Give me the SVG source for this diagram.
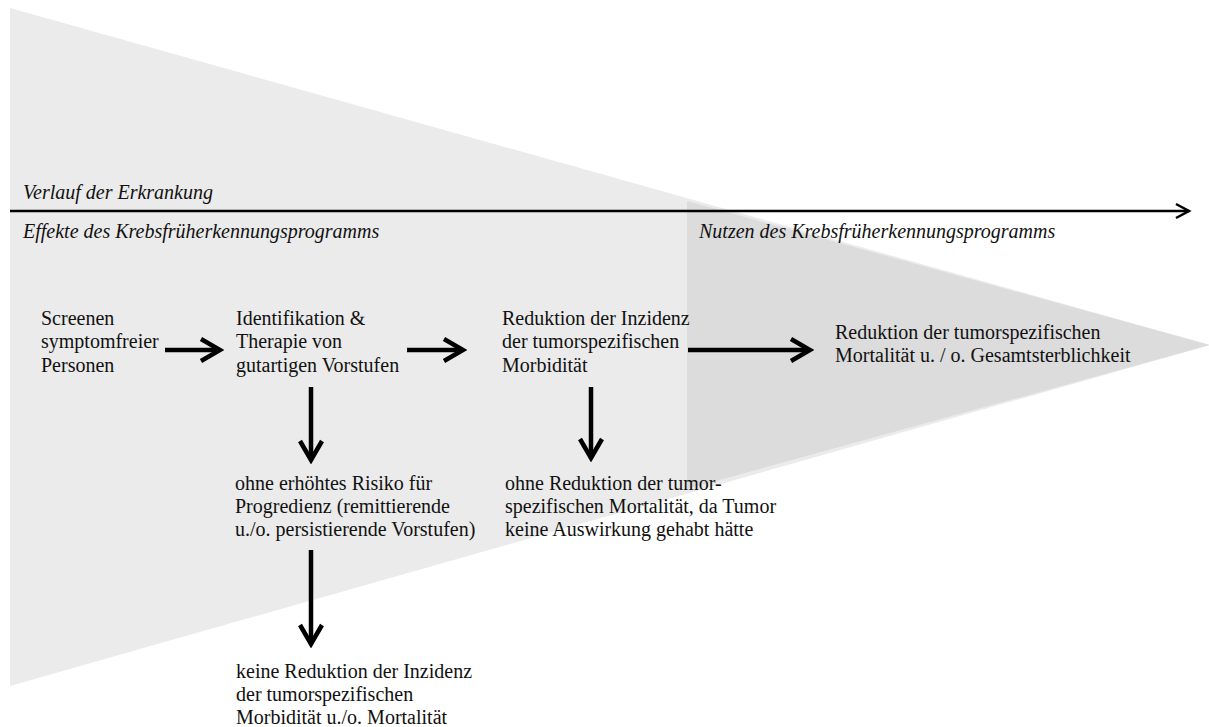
<svg xmlns="http://www.w3.org/2000/svg" width="1209" height="727" viewBox="0 0 1209 727">
  <style>
    text { font-family: "Liberation Serif", "Times New Roman", serif; font-size: 20px; fill: #111; }
    .it { font-style: italic; }
    .flow { stroke: #000; stroke-width: 4.5; fill: none; }
  </style>
  <defs>
    <marker id="chev" viewBox="-22 -13 26 26" markerWidth="26" markerHeight="26" refX="0" refY="0" orient="auto" markerUnits="userSpaceOnUse">
      <polyline points="-19,-11 0,0 -19,11" fill="none" stroke="#000" stroke-width="4.5" stroke-linejoin="miter"/>
    </marker>
    <marker id="axisHead" viewBox="-16 -10 20 20" markerWidth="20" markerHeight="20" refX="0" refY="0" orient="auto" markerUnits="userSpaceOnUse">
      <polyline points="-13,-7 0,0 -13,7" fill="none" stroke="#000" stroke-width="2.5"/>
    </marker>
  </defs>

  <!-- background funnel -->
  <g id="funnel">
    <polygon points="10,8 10,686 1210,345" fill="#ebebeb"/>
    <polygon points="687,201 1210,345 687,489" fill="#dcdcdc"/>
  </g>

  <!-- time axis -->
  <g id="axis">
    <line x1="10" y1="211" x2="1189" y2="211" stroke="#000" stroke-width="2.5" marker-end="url(#axisHead)"/>
    <text class="it" x="23" y="199">Verlauf der Erkrankung</text>
    <text class="it" x="23" y="238">Effekte des Krebsfrüherkennungsprogramms</text>
    <text class="it" x="699" y="238">Nutzen des Krebsfrüherkennungsprogramms</text>
  </g>

  <g id="screening">
    <text x="41" y="325">Screenen</text>
    <text x="41" y="348">symptomfreier</text>
    <text x="41" y="372">Personen</text>
  </g>

  <g id="identification">
    <text x="236" y="325">Identifikation &amp;</text>
    <text x="236" y="348">Therapie von</text>
    <text x="236" y="372">gutartigen Vorstufen</text>
  </g>

  <g id="incidence">
    <text x="502" y="325">Reduktion der Inzidenz</text>
    <text x="502" y="348">der tumorspezifischen</text>
    <text x="502" y="372">Morbidität</text>
  </g>

  <g id="mortality">
    <text x="835" y="339">Reduktion der tumorspezifischen</text>
    <text x="835" y="362">Mortalität u. / o. Gesamtsterblichkeit</text>
  </g>

  <g id="no-risk">
    <text x="235" y="490">ohne erhöhtes Risiko für</text>
    <text x="235" y="513">Progredienz (remittierende</text>
    <text x="235" y="536">u./o. persistierende Vorstufen)</text>
  </g>

  <g id="no-mortality-reduction">
    <text x="505" y="490">ohne Reduktion der tumor-</text>
    <text x="505" y="513">spezifischen Mortalität, da Tumor</text>
    <text x="505" y="536">keine Auswirkung gehabt hätte</text>
  </g>

  <g id="no-reduction">
    <text x="236" y="678">keine Reduktion der Inzidenz</text>
    <text x="236" y="701">der tumorspezifischen</text>
    <text x="236" y="724">Morbidität u./o. Mortalität</text>
  </g>

  <!-- connectors -->
  <g id="connectors">
    <line class="flow" x1="165" y1="350" x2="220" y2="350" marker-end="url(#chev)"/>
    <line class="flow" x1="407" y1="350" x2="463" y2="350" marker-end="url(#chev)"/>
    <line class="flow" x1="688" y1="350" x2="810" y2="350" marker-end="url(#chev)"/>
    <line class="flow" x1="311" y1="387" x2="311" y2="460" marker-end="url(#chev)"/>
    <line class="flow" x1="311" y1="550" x2="311" y2="644" marker-end="url(#chev)"/>
    <line class="flow" x1="591" y1="387" x2="591" y2="458" marker-end="url(#chev)"/>
  </g>
</svg>
